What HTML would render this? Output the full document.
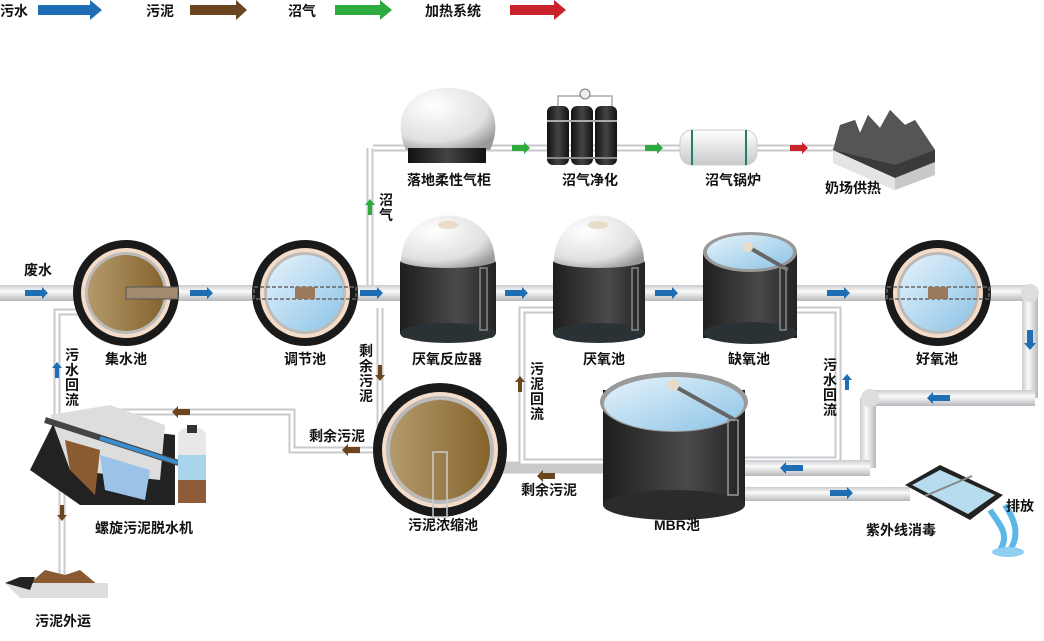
<!DOCTYPE html>
<html><head><meta charset="utf-8"><style>
body{margin:0;background:#fff;}
svg{display:block;font-family:"Liberation Sans","Noto Sans CJK SC",sans-serif;}
.t{font-size:14px;font-weight:bold;fill:#111;}
</style></head><body>
<svg width="1044" height="641" viewBox="0 0 1044 641" xmlns="http://www.w3.org/2000/svg">
<defs>
<linearGradient id="pipeH" x1="0" y1="0" x2="0" y2="1"><stop offset="0" stop-color="#c9cccf"/><stop offset="0.4" stop-color="#fafafa"/><stop offset="1" stop-color="#b5b8bb"/></linearGradient>
<linearGradient id="pipeV" x1="0" y1="0" x2="1" y2="0"><stop offset="0" stop-color="#c9cccf"/><stop offset="0.4" stop-color="#fafafa"/><stop offset="1" stop-color="#b5b8bb"/></linearGradient>
<linearGradient id="mud" x1="0" y1="0" x2="1" y2="0"><stop offset="0" stop-color="#b39a6c"/><stop offset="1" stop-color="#85632c"/></linearGradient>
<linearGradient id="water" x1="0" y1="0" x2="1" y2="1"><stop offset="0" stop-color="#e6f3fb"/><stop offset="1" stop-color="#8cc3e6"/></linearGradient>
<linearGradient id="body" x1="0" y1="0" x2="1" y2="0"><stop offset="0" stop-color="#1e1e1e"/><stop offset="0.6" stop-color="#4a4a4c"/><stop offset="1" stop-color="#222"/></linearGradient>
<radialGradient id="dome" cx="0.35" cy="0.3" r="0.8"><stop offset="0" stop-color="#fff"/><stop offset="0.7" stop-color="#e0e0e0"/><stop offset="1" stop-color="#9a9a9a"/></radialGradient>
<linearGradient id="gasb" x1="0" y1="0" x2="1" y2="0"><stop offset="0" stop-color="#111"/><stop offset="0.5" stop-color="#444"/><stop offset="1" stop-color="#111"/></linearGradient>
<linearGradient id="boil" x1="0" y1="0" x2="0" y2="1"><stop offset="0" stop-color="#fff"/><stop offset="1" stop-color="#c7c9ca"/></linearGradient>
</defs>

<!-- legend -->
<text x="0" y="16" class="t">污水</text>
<polygon points="38,5 90,5 90,0 102,10 90,20 90,15 38,15" fill="#1f6db4"/>
<text x="146" y="16" class="t">污泥</text>
<polygon points="190,5 236,5 236,0 247,10 236,20 236,15 190,15" fill="#6a4520"/>
<text x="288" y="16" class="t">沼气</text>
<polygon points="335,5 380,5 380,0 392,10 380,20 380,15 335,15" fill="#2eab3f"/>
<text x="425" y="16" class="t">加热系统</text>
<polygon points="510,5 554,5 554,0 566,10 554,20 554,15 510,15" fill="#c8232b"/>

<!-- thin pipes -->
<g fill="none" stroke="#c8cacc" stroke-width="7">
<path d="M373,148 H840 M370,148 V285"/>
<path d="M57,415 V312 H80"/>
<path d="M380,308 V442 M375,450 H292 V412 H100 M105,412 V420"/>
<path d="M605,465 H500 M605,470 H500"/>
<path d="M553,310 H522 V462 H605"/>
<path d="M797,310 H838 V460 H745"/>
<path d="M62,470 V585"/>
</g>
<g fill="none" stroke="#fff" stroke-width="3">
<path d="M373,148 H840 M370,148 V285"/>
<path d="M57,415 V312 H80"/>
<path d="M380,308 V442 M375,450 H292 V412 H100"/>
<path d="M553,310 H522 V462 H605"/>
<path d="M797,310 H838 V460 H745"/>
<path d="M62,470 V585"/>
</g>

<!-- main pipes -->
<rect x="0" y="285" width="1030" height="16" fill="url(#pipeH)"/>
<rect x="1022" y="293" width="16" height="105" fill="url(#pipeV)"/>
<circle cx="1030" cy="293" r="9" fill="#ddd"/>
<rect x="870" y="390" width="165" height="16" fill="url(#pipeH)"/>
<rect x="860" y="398" width="16" height="70" fill="url(#pipeV)"/>
<circle cx="870" cy="398" r="9" fill="#ddd"/>
<rect x="745" y="460" width="125" height="16" fill="url(#pipeH)"/>
<rect x="745" y="487" width="165" height="14" fill="url(#pipeH)"/>

<!-- flow arrows blue -->
<g fill="#1f6db4">
<polygon points="25,290 42,290 42,287 48,293 42,299 42,296 25,296"/>
<polygon points="190,290 207,290 207,287 213,293 207,299 207,296 190,296"/>
<polygon points="360,290 377,290 377,287 383,293 377,299 377,296 360,296"/>
<polygon points="505,290 522,290 522,287 528,293 522,299 522,296 505,296"/>
<polygon points="655,290 672,290 672,287 678,293 672,299 672,296 655,296"/>
<polygon points="827,290 844,290 844,287 850,293 844,299 844,296 827,296"/>
<polygon points="1027,330 1033,330 1033,343 1036,343 1030,350 1024,343 1027,343"/>
<polygon points="950,395 933,395 933,392 927,398 933,404 933,401 950,401"/>
<polygon points="803,465 786,465 786,462 780,468 786,474 786,471 803,471"/>
<polygon points="830,490 847,490 847,487 853,493 847,499 847,496 830,496"/>
<polygon points="55,378 59,378 59,368 62,368 57,362 52,368 55,368"/>
<polygon points="845,390 849,390 849,380 852,380 847,374 842,380 845,380"/>
</g>
<g fill="#6a4520">
<polygon points="378,365 382,365 382,375 385,375 380,381 375,375 378,375"/>
<polygon points="360,447 348,447 348,444 342,450 348,456 348,453 360,453"/>
<polygon points="190,409 178,409 178,406 172,412 178,418 178,415 190,415"/>
<polygon points="555,473 543,473 543,470 537,476 543,482 543,479 555,479"/>
<polygon points="518,392 522,392 522,382 525,382 520,376 515,382 518,382"/>
<polygon points="60,505 64,505 64,515 67,515 62,521 57,515 60,515"/>
</g>
<g fill="#2eab3f">
<polygon points="368,215 372,215 372,205 375,205 370,199 365,205 368,205"/>
<polygon points="512,145 524,145 524,142 530,148 524,154 524,151 512,151"/>
<polygon points="645,145 657,145 657,142 663,148 657,154 657,151 645,151"/>
</g>
<polygon points="790,145 802,145 802,142 808,148 802,154 802,151 790,151" fill="#c8232b"/>

<!-- round tanks -->
<circle cx="126" cy="293" r="53" fill="#1a1a1a"/>
<circle cx="126" cy="293" r="45" fill="#f4dcc8"/>
<circle cx="126" cy="293" r="41" fill="#bbb"/>
<circle cx="126" cy="293" r="38" fill="url(#mud)"/>
<rect x="126" y="287" width="52" height="12" fill="#a08a70" stroke="#555" stroke-width="1"/>
<circle cx="305" cy="293" r="53" fill="#1a1a1a"/>
<circle cx="305" cy="293" r="45" fill="#f4dcc8"/>
<circle cx="305" cy="293" r="41" fill="#bbb"/>
<circle cx="305" cy="293" r="38" fill="url(#water)"/>
<rect x="254" y="287" width="102" height="12" fill="none" stroke="#666" stroke-width="1.5" stroke-dasharray="4 2"/>
<rect x="295" y="287" width="20" height="12" fill="#9a7a5a"/>
<circle cx="938" cy="293" r="53" fill="#1a1a1a"/>
<circle cx="938" cy="293" r="45" fill="#f4dcc8"/>
<circle cx="938" cy="293" r="41" fill="#bbb"/>
<circle cx="938" cy="293" r="38" fill="url(#water)"/>
<rect x="887" y="287" width="102" height="12" fill="none" stroke="#666" stroke-width="1.5" stroke-dasharray="4 2"/>
<rect x="928" y="287" width="20" height="12" fill="#9a7a5a"/>
<circle cx="440" cy="450" r="67" fill="#1a1a1a"/>
<circle cx="440" cy="450" r="58" fill="#f4dcc8"/>
<circle cx="440" cy="450" r="54" fill="#bbb"/>
<circle cx="440" cy="450" r="50" fill="url(#mud)"/>
<rect x="433" y="452" width="14" height="65" fill="none" stroke="#ccc" stroke-width="1.5"/>

<!-- anaerobic reactor -->
<rect x="400" y="258" width="96" height="80" rx="6" fill="url(#body)"/>
<ellipse cx="448" cy="333" rx="48" ry="10" fill="#2a3236"/>
<path d="M401,262 C401,200 495,200 495,262 C480,270 415,270 401,262Z" fill="url(#dome)"/>
<ellipse cx="448" cy="225" rx="10" ry="4" fill="#e8dcc8"/>
<rect x="480" y="268" width="7" height="62" fill="none" stroke="#888" stroke-width="1.5"/>
<!-- anaerobic pool -->
<rect x="553" y="258" width="92" height="80" rx="6" fill="url(#body)"/>
<ellipse cx="599" cy="333" rx="46" ry="10" fill="#2a3236"/>
<path d="M554,262 C554,200 644,200 644,262 C630,270 568,270 554,262Z" fill="url(#dome)"/>
<ellipse cx="598" cy="225" rx="10" ry="4" fill="#e8dcc8"/>
<rect x="632" y="268" width="6" height="62" fill="none" stroke="#888" stroke-width="1.5"/>
<!-- anoxic -->
<rect x="703" y="252" width="94" height="86" fill="url(#body)"/>
<ellipse cx="750" cy="333" rx="47" ry="11" fill="#2a3236"/>
<ellipse cx="750" cy="252" rx="47" ry="20" fill="#999"/>
<ellipse cx="750" cy="252" rx="43" ry="17" fill="url(#water)"/>
<line x1="750" y1="248" x2="788" y2="270" stroke="#666" stroke-width="4"/>
<circle cx="748" cy="247" r="5" fill="#e8dcc8"/>
<rect x="780" y="268" width="6" height="62" fill="none" stroke="#888" stroke-width="1.5"/>
<!-- MBR -->
<rect x="603" y="390" width="142" height="115" fill="url(#body)"/>
<ellipse cx="674" cy="505" rx="71" ry="15" fill="#2b2b2b"/>
<ellipse cx="674" cy="402" rx="74" ry="30" fill="#9a9a9a"/>
<ellipse cx="674" cy="404" rx="70" ry="27" fill="url(#water)"/>
<line x1="676" y1="387" x2="735" y2="420" stroke="#666" stroke-width="4"/>
<circle cx="673" cy="385" r="6" fill="#e8dcc8"/>
<rect x="728" y="420" width="10" height="75" fill="none" stroke="#999" stroke-width="1.5"/>

<!-- gas holder -->
<path d="M406,150 C392,120 405,88 448,88 C491,88 504,120 490,150Z" fill="url(#dome)"/>
<rect x="408" y="148" width="78" height="15" fill="url(#gasb)"/>
<!-- purification -->
<path d="M558,106 V96 H612 V106" fill="none" stroke="#aaa" stroke-width="1.5"/>
<circle cx="585" cy="94" r="5" fill="#eee" stroke="#777"/>
<rect x="547" y="106" width="22" height="59" rx="6" fill="url(#gasb)"/>
<rect x="571" y="106" width="22" height="59" rx="6" fill="url(#gasb)"/>
<rect x="595" y="106" width="22" height="59" rx="6" fill="url(#gasb)"/>
<rect x="547" y="120" width="70" height="2" fill="#aaa"/><rect x="547" y="157" width="70" height="2" fill="#888"/>
<!-- boiler -->
<rect x="680" y="130" width="77" height="35" rx="12" fill="url(#boil)" stroke="#ccc"/>
<line x1="692" y1="130" x2="692" y2="165" stroke="#2a7a6a" stroke-width="2"/>
<line x1="746" y1="130" x2="746" y2="165" stroke="#2a7a6a" stroke-width="2"/>
<!-- farm -->
<polygon points="833,150 895,178 935,162 935,175 895,190 833,163" fill="#c8c8c8"/>
<polygon points="833,150 895,178 895,190 833,163" fill="#e4e4e4"/>
<polygon points="833,150 840,125 855,120 860,133 868,115 880,128 890,110 905,125 915,120 935,150 935,162 895,178" fill="#3a3a3a"/>
<polygon points="840,125 855,120 860,133 868,115 880,128 890,110 905,125 915,120 935,150 895,165 833,150" fill="#555"/>

<!-- dewatering machine -->
<polygon points="30,470 55,420 175,435 175,505 80,505" fill="#222"/>
<polygon points="50,415 110,405 165,425 160,480 70,470" fill="#ddd"/>
<polygon points="65,440 100,450 95,495 70,470" fill="#8a5a30"/>
<polygon points="100,455 150,470 145,500 105,490" fill="#9bc3e8"/>
<line x1="45" y1="420" x2="185" y2="465" stroke="#444" stroke-width="6"/>
<line x1="100" y1="438" x2="185" y2="465" stroke="#3a8ed0" stroke-width="4"/>
<rect x="178" y="428" width="28" height="75" rx="8" fill="#e8e8e8"/>
<rect x="178" y="455" width="28" height="25" fill="#a8d4ec"/>
<rect x="178" y="480" width="28" height="23" fill="#8d5a3a"/>
<rect x="187" y="425" width="10" height="8" fill="#333"/>
<!-- sludge pile -->
<polygon points="28,585 45,570 65,575 80,570 98,585" fill="#8a5a30"/>
<path d="M5,583 H108 V598 H20Z" fill="#ddd"/>
<path d="M5,583 L20,577 H35 L30,590Z" fill="#222"/>

<!-- UV -->
<polygon points="905,485 940,465 1003,495 970,520" fill="#222"/>
<polygon points="912,485 940,470 995,495 968,514" fill="#b8dcef"/>
<line x1="925" y1="496" x2="972" y2="476" stroke="#888" stroke-width="2"/>
<path d="M990,510 C1000,525 1010,535 1000,550" stroke="#5db7e6" stroke-width="6" fill="none"/>
<path d="M1005,505 C1015,520 1020,535 1010,550" stroke="#5db7e6" stroke-width="6" fill="none"/>
<ellipse cx="1008" cy="552" rx="16" ry="5" fill="#8fd0f0"/>

<!-- labels -->
<g class="t">
<text x="24" y="275">废水</text>
<text x="105" y="364">集水池</text>
<text x="284" y="364">调节池</text>
<text x="412" y="364">厌氧反应器</text>
<text x="583" y="364">厌氧池</text>
<text x="728" y="364">缺氧池</text>
<text x="916" y="364">好氧池</text>
<text x="408" y="530">污泥浓缩池</text>
<text x="654" y="530">MBR池</text>
<text x="866" y="535">紫外线消毒</text>
<text x="1006" y="511">排放</text>
<text x="95" y="533">螺旋污泥脱水机</text>
<text x="35" y="626">污泥外运</text>
<text x="309" y="441">剩余污泥</text>
<text x="521" y="495">剩余污泥</text>
<text x="407" y="185">落地柔性气柜</text>
<text x="562" y="185">沼气净化</text>
<text x="705" y="185">沼气锅炉</text>
<text x="825" y="193">奶场供热</text>
</g>
<g class="t" text-anchor="middle">
<text x="72" y="360">污</text><text x="72" y="375">水</text><text x="72" y="390">回</text><text x="72" y="405">流</text>
<text x="366" y="356">剩</text><text x="366" y="371">余</text><text x="366" y="386">污</text><text x="366" y="401">泥</text>
<text x="537" y="374">污</text><text x="537" y="389">泥</text><text x="537" y="404">回</text><text x="537" y="419">流</text>
<text x="830" y="370">污</text><text x="830" y="385">水</text><text x="830" y="400">回</text><text x="830" y="415">流</text>
<text x="386" y="205">沼</text><text x="386" y="220">气</text>
</g>
</svg>
</body></html>
